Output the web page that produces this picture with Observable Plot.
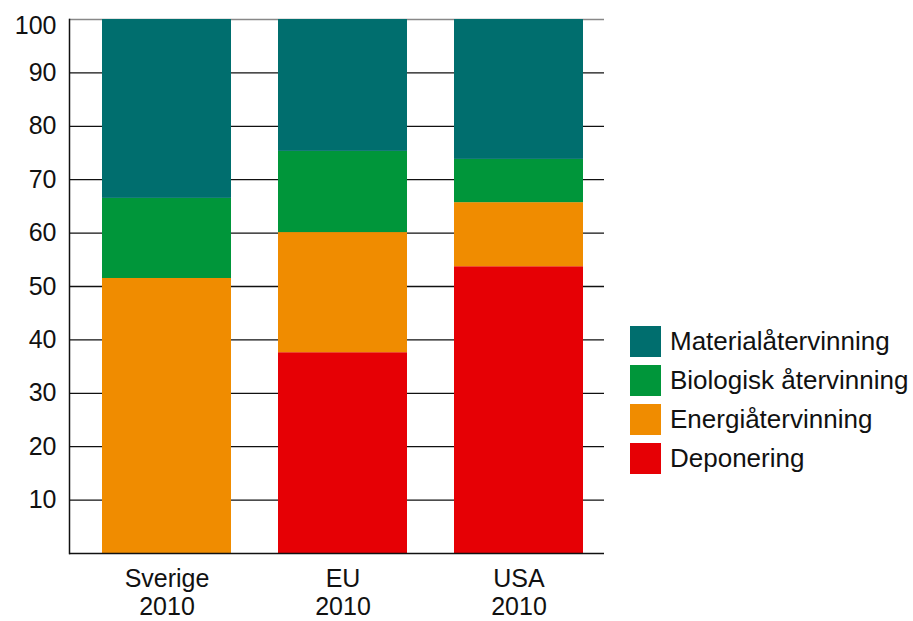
<!DOCTYPE html>
<html>
<head>
<meta charset="utf-8">
<script src="https://cdn.jsdelivr.net/npm/d3@7"></script>
<script src="https://cdn.jsdelivr.net/npm/@observablehq/plot@0.6"></script>
<style>
  html, body { margin: 0; padding: 0; background: white; }
  #wrap { position: relative; width: 913px; height: 621px; font-family: "Liberation Sans", Arial, sans-serif; color: #111; }
  #legend { position: absolute; left: 630px; top: 326px; }
  .item { display: flex; align-items: center; height: 31px; margin-bottom: 8px; font-size: 26px; white-space: nowrap; }
  .sw { width: 31px; height: 31px; margin-right: 9px; flex: none; }
</style>
</head>
<body>
<div id="wrap"><div id="legend"></div></div>
<script>
const categories = ["Sverige\n2010", "EU\n2010", "USA\n2010"];
const legendSeries = ["Materialåtervinning", "Biologisk återvinning", "Energiåtervinning", "Deponering"];
const legendColors = ["#006e6e", "#00963a", "#f08c00", "#e60005"];
// values per category (percent), same order as categories
const deponering = [0, 37.6, 53.7];
const energiatervinning = [51.5, 22.5, 12.0];
const biologisk = [15.0, 15.2, 8.1];
const material = [33.5, 24.7, 26.2];
const yTicks = [10, 20, 30, 40, 50, 60, 70, 80, 90, 100];

// stack from bottom to top
const stackSeries = [
  ["Deponering", deponering],
  ["Energiåtervinning", energiatervinning],
  ["Biologisk återvinning", biologisk],
  ["Materialåtervinning", material]
];
const data = [];
for (const [name, vals] of stackSeries) {
  categories.forEach((c, i) => data.push({cat: c, series: name, value: vals[i]}));
}

const chart = Plot.plot({
  width: 913,
  height: 621,
  marginTop: 19,
  marginBottom: 68,
  marginLeft: 69,
  marginRight: 309,
  style: {fontFamily: "'Liberation Sans', Arial, sans-serif", fontSize: "25px", color: "#111", background: "white"},
  x: {domain: categories, paddingInner: 0.267, paddingOuter: 0.153, align: 0.61, label: null},
  y: {domain: [0, 100], label: null},
  color: {domain: legendSeries, range: legendColors},
  marks: [
    Plot.ruleY(yTicks.filter(t => t < 100), {stroke: "#111", strokeWidth: 1.3}),
    Plot.ruleY(yTicks.filter(t => t === 100), {stroke: "#888", strokeWidth: 1.3}),
    Plot.barY(data, {x: "cat", y: "value", fill: "series"}),
    Plot.ruleY([0], {stroke: "#111", strokeWidth: 1.5}),
    Plot.frame({anchor: "left", stroke: "#111", strokeWidth: 1.5}),
    Plot.axisY(yTicks.filter(t => t < 100), {tickSize: 0, tickPadding: 13, label: null, fontSize: 25}),
    Plot.axisY(yTicks.filter(t => t === 100), {tickSize: 0, tickPadding: 13, label: null, fontSize: 25, dy: 6}),
    Plot.axisX({tickSize: 0, tickPadding: 14, lineHeight: 1.12, label: null, fontSize: 25})
  ]
});
document.getElementById("wrap").prepend(chart);

const legend = document.getElementById("legend");
legendSeries.forEach((s, i) => {
  const it = document.createElement("div");
  it.className = "item";
  const sw = document.createElement("span");
  sw.className = "sw";
  sw.style.background = legendColors[i];
  const tx = document.createElement("span");
  tx.textContent = s;
  it.append(sw, tx);
  legend.append(it);
});
</script>
</body>
</html>
